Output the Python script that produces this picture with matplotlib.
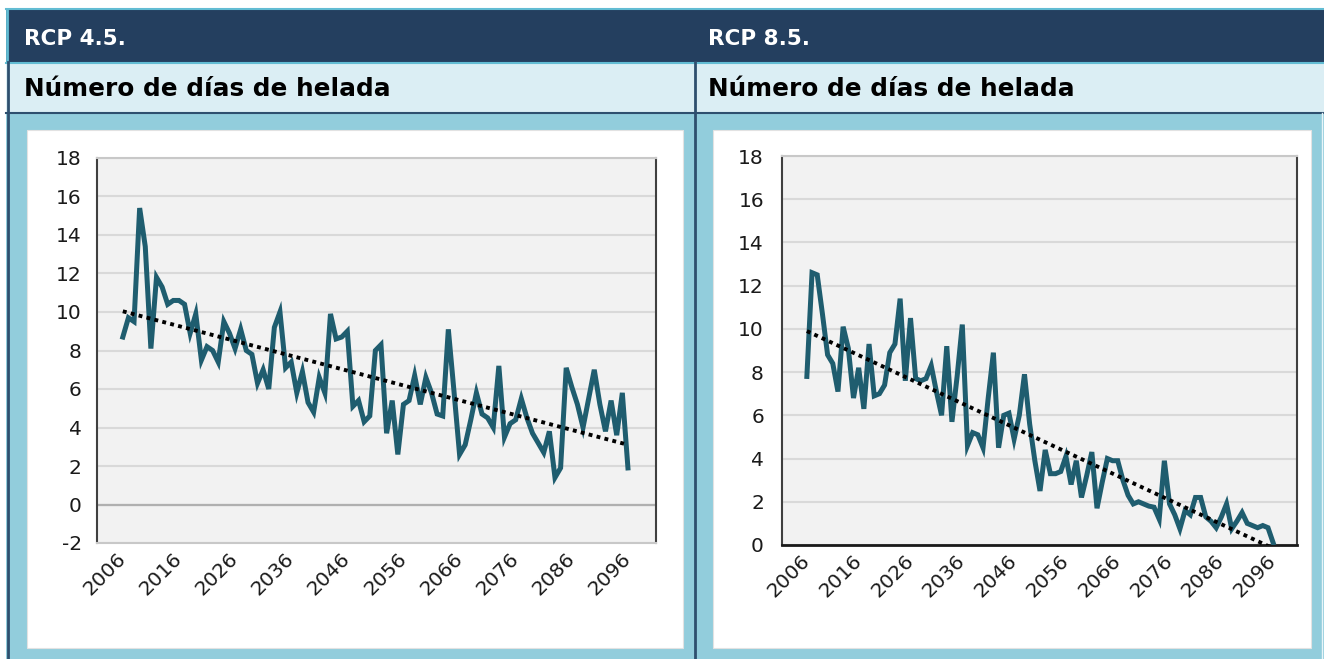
import numpy as np
import matplotlib
matplotlib.use("Agg")
import matplotlib.pyplot as plt
from matplotlib.patches import Rectangle
from matplotlib.lines import Line2D

plt.rcParams["axes.unicode_minus"] = False

W, H = 1324, 659

years = np.arange(2006, 2097)

# frost days per year, RCP 4.5
rcp45 = [8.7, 9.7, 9.5, 15.4, 13.4, 8.1, 11.8, 11.3, 10.4, 10.6,
         10.6, 10.4, 8.9, 9.9, 7.5, 8.2, 8.0, 7.4, 9.5, 8.9,
         8.1, 9.1, 8.0, 7.8, 6.3, 7.0, 6.0, 9.2, 10.0, 7.1,
         7.4, 5.8, 6.9, 5.3, 4.8, 6.6, 5.8, 9.9, 8.6, 8.7,
         9.0, 5.1, 5.4, 4.3, 4.6, 8.0, 8.3, 3.7, 5.4, 2.6,
         5.2, 5.4, 6.7, 5.2, 6.6, 5.8, 4.7, 4.6, 9.1, 5.9,
         2.6, 3.1, 4.4, 5.8, 4.7, 4.5, 4.0, 7.2, 3.5, 4.2,
         4.4, 5.5, 4.5, 3.7, 3.2, 2.7, 3.8, 1.4, 1.9, 7.1,
         6.1, 5.2, 4.0, 5.5, 7.0, 5.2, 3.8, 5.4, 3.6, 5.8,
         1.9]

# frost days per year, RCP 8.5
rcp85 = [7.8, 12.6, 12.5, 10.7, 8.8, 8.4, 7.1, 10.1, 9.1, 6.8,
         8.2, 6.3, 9.3, 6.9, 7.0, 7.4, 8.9, 9.3, 11.4, 7.6,
         10.5, 7.7, 7.6, 7.7, 8.3, 7.1, 6.0, 9.2, 5.7, 7.8,
         10.2, 4.6, 5.2, 5.1, 4.5, 6.8, 8.9, 4.5, 6.0, 6.1,
         4.9, 6.0, 7.9, 5.6, 3.9, 2.5, 4.4, 3.3, 3.3, 3.4,
         4.1, 2.8, 3.9, 2.2, 3.2, 4.3, 1.7, 2.9, 4.0, 3.9,
         3.9, 3.0, 2.3, 1.9, 2.0, 1.9, 1.8, 1.75, 1.2, 3.9,
         1.9, 1.4, 0.75, 1.6, 1.4, 2.2, 2.2, 1.3, 1.1, 0.8,
         1.3, 1.9, 0.75, 1.1, 1.5, 1.0, 0.9, 0.8, 0.9, 0.8,
         0.1]

tick_years = list(range(2006, 2097, 10))
titles = ["RCP 4.5.", "RCP 8.5."]
subtitle = "Número de días de helada"

NAVY = "#243f5f"
LIGHT = "#dbeef4"
PANEL = "#92cddc"
LINE = "#1f5d6f"
PLOT_BG = "#f2f2f2"
GRID = "#d9d9d9"


def box(fig, x, y, w, h, color, **kw):
    fig.add_artist(Rectangle((x / W, 1 - (y + h) / H), w / W, h / H,
                             transform=fig.transFigure, facecolor=color,
                             edgecolor=kw.pop("ec", "none"), zorder=-5, **kw))


def vline(fig, x, y0, y1, color, lw):
    fig.add_artist(Line2D([x / W, x / W], [1 - y0 / H, 1 - y1 / H],
                          transform=fig.transFigure, color=color, lw=lw, zorder=-4))


def hline(fig, y, x0, x1, color, lw):
    fig.add_artist(Line2D([x0 / W, x1 / W], [1 - y / H, 1 - y / H],
                          transform=fig.transFigure, color=color, lw=lw, zorder=-4))


fig = plt.figure(figsize=(W / 100, H / 100), dpi=100, facecolor="white")

# table frame
box(fig, 6, 9, W - 6, 53, NAVY)
box(fig, 6, 62, W - 6, 51, LIGHT)
box(fig, 6, 113, W - 6, H - 113, PANEL)
hline(fig, 9, 6, W, "#62bcd3", 1.5)
hline(fig, 62.5, 6, W, "#62bcd3", 1.5)
hline(fig, 113, 6, W, "#2e4f6e", 1.5)
vline(fig, 7, 9, 62, "#62bcd3", 2)
vline(fig, 7.5, 62, H, "#2e4f6e", 2)
vline(fig, 695, 62, H, "#2e4f6e", 2)
vline(fig, 1322, 113, H, "#e8f5f9", 1)

# white chart cards
box(fig, 27, 130, 656, 518, "white", ec="#e2e2e2", lw=0.8)
box(fig, 713, 130, 598, 518, "white", ec="#e2e2e2", lw=0.8)

for i, x0 in enumerate([24, 708]):
    fig.text(x0 / W, 1 - 39 / H, titles[i], color="white", fontsize=15.5,
             fontweight="bold", family="DejaVu Sans", va="center", ha="left")
    fig.text(x0 / W, 1 - 89 / H, subtitle, color="black", fontsize=17.8,
             fontweight="bold", family="DejaVu Sans", va="center", ha="left")

panels = [
    dict(data=rcp45, rect=(97, 158, 559, 385), ylim=(-2, 18), xlim=(2001.4, 2101.0), pad=11),
    dict(data=rcp85, rect=(782, 156, 515, 389), ylim=(0, 18), xlim=(2001.2, 2100.6), pad=13),
]

for k, p in enumerate(panels):
    x, y, w, h = p["rect"]
    ax = fig.add_axes([x / W, 1 - (y + h) / H, w / W, h / H])
    ax.set_zorder(5)
    ax.set_facecolor(PLOT_BG)
    vals = np.array(p["data"])
    ax.plot(years, vals, color=LINE, lw=3.6, solid_joinstyle="miter", zorder=3)
    slope, icpt = np.polyfit(years, vals, 1)
    ax.plot(years, slope * years + icpt, color="black", lw=2.8,
            linestyle=(0, (1, 1.1)), zorder=4)
    ax.set_xlim(*p["xlim"])
    ax.set_ylim(*p["ylim"])
    ax.set_yticks(range(p["ylim"][0], 19, 2))
    ax.yaxis.grid(True, color=GRID, lw=1.5)
    ax.set_axisbelow(True)
    ax.set_xticks(tick_years)
    ax.set_xticklabels([str(t) for t in tick_years], rotation=45, ha="right",
                       va="center", rotation_mode="anchor", fontsize=14.5,
                       family="DejaVu Sans")
    for lab in ax.get_yticklabels():
        lab.set_fontsize(14.5)
        lab.set_family("DejaVu Sans")
    ax.tick_params(axis="both", length=0, colors="#1a1a1a")
    ax.tick_params(axis="y", pad=p["pad"])
    ax.tick_params(axis="x", pad=9)
    ax.spines["left"].set_color("#404040")
    ax.spines["right"].set_color("#404040")
    ax.spines["top"].set_color("#c8c8c8")
    ax.spines["left"].set_linewidth(1.5)
    ax.spines["right"].set_linewidth(1.5)
    ax.spines["top"].set_linewidth(1.5)
    if k == 0:
        ax.spines["bottom"].set_color("#c8c8c8")
        ax.spines["bottom"].set_linewidth(1.5)
        ax.axhline(0, color="#b0b0b0", lw=1.6, zorder=1)
    else:
        ax.spines["bottom"].set_color("#1a1a1a")
        ax.spines["bottom"].set_linewidth(2)

fig.savefig("out.png", dpi=100, facecolor="white")
